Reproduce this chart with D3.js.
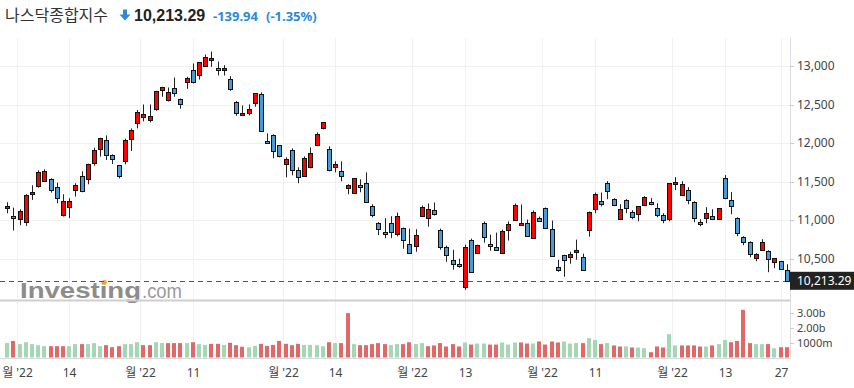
<!DOCTYPE html>
<html>
<head>
<meta charset="utf-8">
<script src="https://cdn.jsdelivr.net/npm/d3@7"></script>
<style>
  body { margin: 0; background: #fff; }
  svg { display: block; }
  text { font-family: "Noto Sans", "Noto Sans CJK KR", sans-serif; }
</style>
</head>
<body>
<svg id="chart" width="854" height="388"></svg>
<script>
// trading days, Jun 29 - Dec 28 2022
const dates = [
  "06-29","06-30",
  "07-01","07-05","07-06","07-07","07-08","07-11","07-12","07-13","07-14","07-15","07-18","07-19","07-20","07-21","07-22","07-25","07-26","07-27","07-28","07-29",
  "08-01","08-02","08-03","08-04","08-05","08-08","08-09","08-10","08-11","08-12","08-15","08-16","08-17","08-18","08-19","08-22","08-23","08-24","08-25","08-26","08-29","08-30","08-31",
  "09-01","09-02","09-06","09-07","09-08","09-09","09-12","09-13","09-14","09-15","09-16","09-19","09-20","09-21","09-22","09-23","09-26","09-27","09-28","09-29","09-30",
  "10-03","10-04","10-05","10-06","10-07","10-10","10-11","10-12","10-13","10-14","10-17","10-18","10-19","10-20","10-21","10-24","10-25","10-26","10-27","10-28","10-31",
  "11-01","11-02","11-03","11-04","11-07","11-08","11-09","11-10","11-11","11-14","11-15","11-16","11-17","11-18","11-21","11-22","11-23","11-25","11-28","11-29","11-30",
  "12-01","12-02","12-05","12-06","12-07","12-08","12-09","12-12","12-13","12-14","12-15","12-16","12-19","12-20","12-21","12-22","12-23","12-27","12-28"
];
const opens = [
  11155,11052,11022,10974,11337,11441,11518,11531,11428,11065,11168,11389,11570,11531,11734,11920,12037,11842,11713,11765,
  12050,12257,12335,12296,12434,12685,12551,12711,12568,12797,12944,12879,13009,13074,12970,12944,12840,12529,12361,12387,
  12516,12633,12024,12102,11972,11726,11907,11648,11570,11687,11972,12192,11920,11687,11635,11415,11350,11454,11480,11190,
  10961,10844,10961,10826,10904,10696,10670,11061,11035,11139,10878,10657,10487,10435,10135,10748,10578,10970,10696,10657,
  10578,10878,11009,10943,10970,10774,11035,11165,10891,10396,10552,10526,10591,10526,10878,11143,11247,11481,11273,11026,
  11260,11104,11078,11195,11234,11156,11065,11013,11468,11325,11390,11234,10974,11026,11052,11013,11546,11260,11026,10779,
  10714,10506,10610,10597,10454,10467,10351
];
const highs = [
  11233,11164,11143,11337,11454,11648,11661,11544,11488,11337,11285,11480,11635,11734,11942,12071,12102,11855,11717,12058,
  12192,12430,12503,12503,12680,12732,12724,12853,12581,12862,13035,13048,13151,13190,13061,13013,12871,12547,12490,12503,
  12646,12659,12127,12115,11972,11816,11933,11687,11829,11946,12140,12270,11959,11765,11765,11467,11544,11531,11622,11207,
  10974,11026,11052,11100,10904,10891,10883,11191,11217,11230,10891,10670,10617,10500,10683,10761,10683,10983,10813,10839,
  10878,10983,11217,11204,11009,11126,11048,11165,10996,10487,10552,10591,10748,10565,11113,11359,11359,11507,11286,11208,
  11273,11130,11182,11312,11286,11221,11091,11481,11559,11507,11429,11247,11013,11169,11143,11156,11585,11364,11039,10792,
  10727,10571,10753,10610,10506,10467,10428
];
const lows = [
  11091,10866,10935,10927,11264,11423,11497,11359,11220,11048,11026,11307,11363,11467,11708,11825,11782,11730,11544,11726,
  11899,12192,12283,12270,12421,12603,12542,12603,12447,12706,12776,12827,12992,12992,12879,12879,12680,12356,12352,12361,
  12473,12153,11998,11804,11816,11557,11583,11480,11570,11674,11972,12179,11635,11622,11505,11337,11350,11363,11233,11039,
  10806,10767,10767,10791,10630,10578,10591,11061,10917,11061,10617,10461,10357,10383,10096,10330,10578,10709,10604,10617,
  10565,10735,11009,10943,10787,10774,10996,10904,10539,10330,10265,10435,10487,10357,10787,11091,11178,11273,11182,11026,
  11091,11013,10987,11195,11195,11039,10961,10987,11390,11325,11208,10974,10922,10961,11013,11013,11273,11078,10792,10675,
  10519,10467,10610,10325,10377,10364,10207
];
const closes = [
  11186,11026,11125,11324,11363,11622,11644,11384,11285,11248,11251,11458,11376,11726,11907,12063,11842,11791,11570,12037,
  12171,12404,12374,12348,12672,12724,12659,12648,12503,12853,12788,13048,13125,13100,12944,12970,12711,12390,12386,12439,
  12646,12153,11998,11894,11829,11791,11648,11557,11804,11868,12115,12270,11648,11726,11570,11454,11544,11428,11233,11078,
  10883,10819,10844,11061,10748,10578,10813,11178,11152,11087,10657,10552,10435,10409,10657,10330,10683,10787,10670,10617,
  10865,10957,11204,10970,10800,11113,10996,10904,10539,10357,10487,10565,10617,10357,11113,11338,11208,11377,11195,11152,
  11156,11039,11182,11299,11208,11065,11000,11481,11494,11468,11260,11026,10948,11091,11013,11156,11286,11182,10831,10714,
  10555,10560,10714,10493,10506,10364,10213.29
];
// volume, billions
const volumes = [
  0.98,1.13,0.91,1.04,0.91,0.84,0.77,0.77,0.77,0.77,0.77,0.91,0.91,0.91,0.98,0.77,0.84,0.70,0.77,0.91,
  0.91,1.04,0.84,0.84,1.04,0.98,0.98,0.98,0.98,0.98,1.04,0.91,0.86,0.93,0.93,0.86,1.00,0.84,0.73,0.70,
  0.79,0.93,0.79,0.86,1.13,0.93,0.84,0.93,0.86,0.86,0.84,0.77,1.04,0.98,0.98,3.02,0.91,0.84,0.84,0.91,
  0.98,0.91,0.84,0.91,0.91,1.04,0.91,0.98,0.77,0.82,0.98,0.75,0.91,0.75,1.02,0.88,0.95,0.95,0.88,0.88,
  1.02,0.88,1.02,1.02,0.95,0.95,1.09,0.88,1.09,1.02,1.09,0.95,0.98,0.98,1.32,1.20,0.91,0.98,0.82,0.75,
  0.75,0.68,0.68,0.63,0.36,0.75,0.68,1.59,0.82,0.82,0.82,0.82,0.75,0.75,0.82,0.91,1.20,1.04,1.13,3.24,
  0.98,0.91,0.91,0.91,0.63,0.70,0.70
];

const priceTicks = [10500, 11000, 11500, 12000, 12500, 13000];
const volTicks = [1, 2, 3];
const volTickLabels = ["1000m", "2.00b", "3.00b"];
const tickDates = ["07-01","07-14","08-01","08-11","09-01","09-14","10-03","10-13","11-01","11-11","12-01","12-13","12-27"];
const tickLabels = ["월 '22","14","월 '22","11","월 '22","14","월 '22","13","월 '22","11","월 '22","13","27"];

const title = "나스닥종합지수";
const lastPrice = 10213.29;
const change = -139.94;
const changePct = -1.35;

const UP = "#ff0000", DOWN = "#4a9ad8";
const VOL_UP = "#a5d7b5", VOL_DOWN = "#e26868";

const svg = d3.select("#chart");
const axisX = 790;
const priceTop = 38, priceBottom = 300;
const volTop = 302, volBottom = 358;

const x = d3.scaleBand().domain(dates).range([4.2, 789.8]);
const bw = x.bandwidth();
const cx = d => Math.round(x(d) + bw / 2) + 0.5;

const y = d3.scaleLinear().domain([9964, 13366]).range([priceBottom, priceTop]);
const yv = d3.scaleLinear().domain([0, 3.776]).range([volBottom - 0.5, volTop]);

// grid
const grid = svg.append("g");
grid.selectAll("line.h").data(priceTicks).join("line")
  .attr("x1", 0).attr("x2", axisX)
  .attr("y1", d => Math.round(y(d)) + 0.5).attr("y2", d => Math.round(y(d)) + 0.5)
  .attr("stroke", "#f1f1f1");
const tickX = (d, i) => tickLabels[i].includes("월") ? Math.round(x(d)) + 0.5 : cx(d);
grid.selectAll("line.v").data(tickDates).join("line")
  .attr("x1", tickX).attr("x2", tickX)
  .attr("y1", priceTop).attr("y2", volBottom)
  .attr("stroke", "#f1f1f1");

// watermark
const logo = svg.append("g");
logo.append("text").attr("x", 20).attr("y", 298)
  .attr("textLength", 121).attr("lengthAdjust", "spacingAndGlyphs")
  .style("font-family", "'Liberation Sans', Arial, sans-serif")
  .style("font-weight", "bold").style("font-size", "22px")
  .attr("fill", "#8c8c8c").text("Investing");
logo.append("text").attr("x", 142).attr("y", 298)
  .attr("textLength", 40).attr("lengthAdjust", "spacingAndGlyphs")
  .style("font-family", "'Liberation Sans', Arial, sans-serif")
  .style("font-size", "20px")
  .attr("fill", "#9a9a9a").text(".com");
logo.append("circle").attr("cx", 104.5).attr("cy", 282.5).attr("r", 2.4).attr("fill", "#f2a43a");

// pane separator + axis lines
svg.append("line").attr("x1", 0).attr("x2", axisX).attr("y1", 300.5).attr("y2", 300.5)
  .attr("stroke", "#cfcfcf").attr("stroke-width", 2);
svg.append("line").attr("x1", 0).attr("x2", axisX + 0.5).attr("y1", volBottom + 0.5).attr("y2", volBottom + 0.5)
  .attr("stroke", "#d8d8d8");
svg.append("line").attr("x1", axisX + 0.5).attr("x2", axisX + 0.5).attr("y1", priceTop).attr("y2", volBottom)
  .attr("stroke", "#dedede");

// last price line
svg.append("line").attr("x1", 0).attr("x2", axisX)
  .attr("y1", Math.round(y(lastPrice)) + 0.5).attr("y2", Math.round(y(lastPrice)) + 0.5)
  .attr("stroke", "#555").attr("stroke-dasharray", "5,4");

// candles
const idx = d3.range(dates.length);
const candles = svg.append("g");
candles.selectAll("line").data(idx).join("line")
  .attr("x1", i => cx(dates[i])).attr("x2", i => cx(dates[i]))
  .attr("y1", i => y(highs[i])).attr("y2", i => y(lows[i]))
  .attr("stroke", "#222");
candles.selectAll("rect").data(idx).join("rect")
  .attr("x", i => cx(dates[i]) - 2)
  .attr("y", i => Math.round(y(Math.max(opens[i], closes[i]))) + 0.5)
  .attr("width", 4)
  .attr("height", i => Math.max(1, Math.round(Math.abs(y(opens[i]) - y(closes[i])))))
  .attr("fill", i => closes[i] >= opens[i] ? UP : DOWN)
  .attr("stroke", "#111");

// volume, coloured by close vs previous close
const volUp = i => i === 0 ? closes[0] >= opens[0] : closes[i] >= closes[i - 1];
svg.append("g").selectAll("rect").data(idx).join("rect")
  .attr("x", i => cx(dates[i]) - 2.5)
  .attr("y", i => yv(volumes[i]))
  .attr("width", 4)
  .attr("height", i => yv(0) - yv(volumes[i]))
  .attr("fill", i => volUp(i) ? VOL_UP : VOL_DOWN);

// right axis
const fmt = d3.format(",");
const ax = svg.append("g").attr("fill", "#444");
ax.selectAll("text.p").data(priceTicks).join("text")
  .style("font-size", "12px")
  .attr("x", 797).attr("y", d => y(d)).attr("dy", "0.35em").text(d => fmt(d));
ax.selectAll("line.p").data(priceTicks).join("line")
  .attr("x1", axisX).attr("x2", axisX + 4)
  .attr("y1", d => Math.round(y(d)) + 0.5).attr("y2", d => Math.round(y(d)) + 0.5)
  .attr("stroke", "#ccc");
ax.selectAll("text.v").data(volTicks).join("text")
  .style("font-size", "11px")
  .attr("x", 797).attr("y", d => yv(d)).attr("dy", "0.35em").text((d, i) => volTickLabels[i]);
ax.selectAll("line.v").data(volTicks).join("line")
  .attr("x1", axisX).attr("x2", axisX + 4)
  .attr("y1", d => Math.round(yv(d)) + 0.5).attr("y2", d => Math.round(yv(d)) + 0.5)
  .attr("stroke", "#ccc");

// last price tag
svg.append("rect").attr("x", axisX).attr("y", y(lastPrice) - 9).attr("width", 64).attr("height", 18).attr("fill", "#222");
svg.append("text").attr("x", 797).attr("y", y(lastPrice)).attr("dy", "0.35em")
  .style("font-size", "12px").attr("fill", "#fff").text(d3.format(",.2f")(lastPrice));

// bottom axis
svg.append("g").style("font-size", "12px").attr("fill", "#444")
  .selectAll("text").data(tickDates).join("text")
  .attr("x", tickX).attr("y", 377).attr("text-anchor", "middle")
  .text((d, i) => tickLabels[i]);

// header
const head = svg.append("g");
head.append("text").attr("x", 5).attr("y", 21).style("font-size", "16px").attr("fill", "#333").text(title);
head.append("path").attr("d", "M123,9.5 h4 v5 h3.5 l-5.5,6 l-5.5,-6 h3.5 z").attr("fill", "#2b8ad8");
head.append("text").attr("x", 134).attr("y", 21)
  .style("font-family", "'Liberation Sans', Arial, sans-serif")
  .style("font-size", "16px").style("font-weight", "bold").attr("fill", "#222")
  .text(d3.format(",.2f")(lastPrice));
const chg = svg.append("g")
  .style("font-family", "'Liberation Sans', Arial, sans-serif")
  .style("font-size", "13px").style("font-weight", "bold").attr("fill", "#2b8ad8");
chg.append("text").attr("x", 213).attr("y", 21).text(change.toFixed(2));
chg.append("text").attr("x", 266).attr("y", 21).text("(" + changePct.toFixed(2) + "%)");
</script>
</body>
</html>
